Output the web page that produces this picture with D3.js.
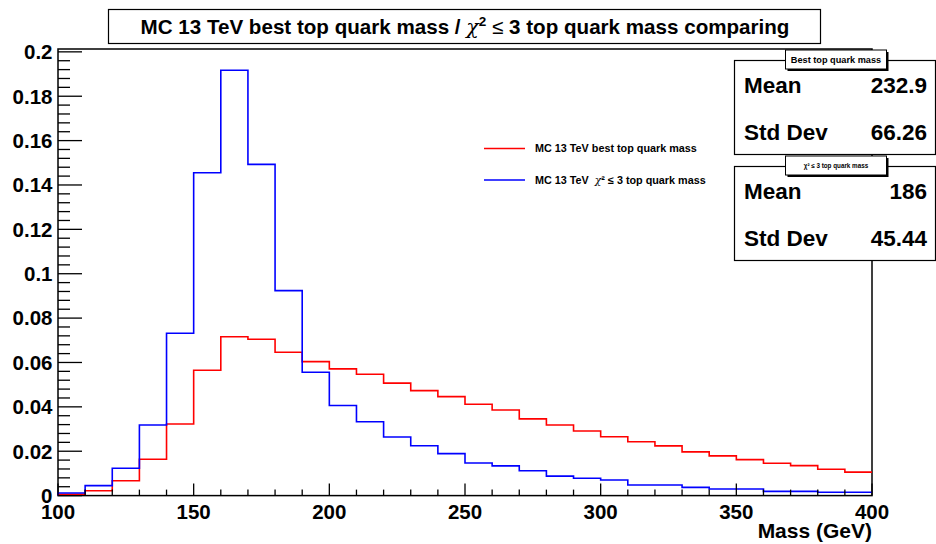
<!DOCTYPE html>
<html>
<head>
<meta charset="utf-8">
<script src="https://cdn.jsdelivr.net/npm/d3@7"></script>
<style>
  html, body { margin: 0; padding: 0; background: #fff; }
  svg { display: block; }
  text { font-family: "Liberation Sans", Arial, Helvetica, sans-serif; font-weight: bold; }
  .greek { font-family: "DejaVu Serif", "Liberation Serif", serif; font-style: italic; font-weight: normal; }
</style>
</head>
<body>
<svg id="chart" width="936" height="544"></svg>
<script>
// ---- data ----
const binEdges = d3.range(100, 401, 10); // 100..400, 10 GeV bins
const bestMass = [0.0006, 0.0022, 0.0067, 0.0164, 0.0323, 0.0565, 0.0716, 0.0705, 0.0646, 0.0604,
                  0.0571, 0.0547, 0.0507, 0.0473, 0.0446, 0.0412, 0.0386, 0.0346, 0.0318, 0.0291,
                  0.0265, 0.0243, 0.0224, 0.0197, 0.0179, 0.0162, 0.0146, 0.0135, 0.0119, 0.0106];
const chi2Mass = [0.0012, 0.0045, 0.0123, 0.0318, 0.0732, 0.1455, 0.1917, 0.1493, 0.0924, 0.0556,
                  0.0406, 0.0333, 0.0264, 0.0225, 0.0189, 0.0147, 0.0134, 0.0112, 0.0088, 0.0078,
                  0.0070, 0.0048, 0.0048, 0.0037, 0.0030, 0.0030, 0.0019, 0.0019, 0.0015, 0.0015];
const xTicks = [100, 150, 200, 250, 300, 350, 400];
const yTicks = [0, 0.02, 0.04, 0.06, 0.08, 0.1, 0.12, 0.14, 0.16, 0.18, 0.2];
const yTickLabels = ["0", "0.02", "0.04", "0.06", "0.08", "0.1", "0.12", "0.14", "0.16", "0.18", "0.2"];
// legend label pieces: [prefix, greek, suffix]
const seriesNames = [["MC 13 TeV best top quark mass", "", ""],
                     ["MC 13 TeV \u00A0", "\u03C7", "\u00B2 \u2264 3 top quark mass"]];
const statTitles = ["Best top quark mass", "\u03C7\u00B2 \u2264 3 top quark mass"];
const statMeans = ["232.9", "186"];
const statStd = ["66.26", "45.44"];

// ---- layout ----
const svg = d3.select("#chart");
const L = 58, R = 872, T = 49, B = 495.6;
const x = d3.scaleLinear().domain([100, 400]).range([L, R]);
const yMax = d3.max(chi2Mass) * 1.05;
const y = d3.scaleLinear().domain([0, yMax]).range([B, T]);

// frame
svg.append("rect").attr("x", L).attr("y", T).attr("width", R - L).attr("height", B - T)
  .attr("fill", "none").attr("stroke", "#000").attr("stroke-width", 1.5);

// histograms
function stepPoints(vals) {
  const pts = [[binEdges[0], 0]];
  vals.forEach((v, i) => { pts.push([binEdges[i], v]); pts.push([binEdges[i + 1], v]); });
  return pts;
}
const line = d3.line().x(d => x(d[0])).y(d => y(d[1]));
svg.append("path").attr("d", line(stepPoints(bestMass)))
  .attr("fill", "none").attr("stroke", "#ff0000").attr("stroke-width", 1.6);
svg.append("path").attr("d", line(stepPoints(chi2Mass)))
  .attr("fill", "none").attr("stroke", "#0000ff").attr("stroke-width", 1.6);

// x axis ticks (inward)
const gx = svg.append("g").attr("transform", `translate(0,${B})`);
const xMinor = d3.range(100, 401, 10);
gx.selectAll("line.minor").data(xMinor).join("line")
  .attr("x1", d => x(d)).attr("x2", d => x(d)).attr("y1", 0)
  .attr("y2", d => xTicks.includes(d) ? -12 : -6)
  .attr("stroke", "#000").attr("stroke-width", 1.3);
gx.selectAll("text").data(xTicks).join("text")
  .attr("x", d => x(d)).attr("y", 23.5).attr("text-anchor", "middle")
  .attr("font-size", 20.5).text(d => d);
svg.append("text").attr("x", R).attr("y", 538).attr("text-anchor", "end")
  .attr("font-size", 21).text("Mass (GeV)");

// y axis ticks (inward)
const yMinor = d3.range(0, 0.2001, 0.004);
svg.append("g").selectAll("line").data(yMinor).join("line")
  .attr("x1", L).attr("x2", (d, i) => L + (i % 5 === 0 ? 24 : 12))
  .attr("y1", d => y(d)).attr("y2", d => y(d))
  .attr("stroke", "#000").attr("stroke-width", 1.3);
svg.append("g").selectAll("text").data(yTicks).join("text")
  .attr("x", 52.5).attr("y", d => y(d)).attr("dy", "0.36em")
  .attr("text-anchor", "end").attr("font-size", 20.5)
  .text((d, i) => yTickLabels[i]);

// title box
svg.append("rect").attr("x", 108.5).attr("y", 9.5).attr("width", 712).attr("height", 34)
  .attr("fill", "#fff").attr("stroke", "#000").attr("stroke-width", 1.2);
const title = svg.append("text").attr("x", 465).attr("y", 34).attr("text-anchor", "middle")
  .attr("font-size", 20.6);
title.append("tspan").text("MC 13 TeV best top quark mass / ");
title.append("tspan").attr("class", "greek").text("\u03C7");
title.append("tspan").attr("font-size", 13.5).attr("dy", -8).text("2");
title.append("tspan").attr("dy", 8).attr("font-weight", "normal").text(" \u2264");
title.append("tspan").text(" 3 top quark mass comparing");

// legend
const legY = [148.5, 180];
const legColors = ["#ff0000", "#0000ff"];
seriesNames.forEach((parts, i) => {
  svg.append("line").attr("x1", 484).attr("x2", 525).attr("y1", legY[i]).attr("y2", legY[i])
    .attr("stroke", legColors[i]).attr("stroke-width", 1.5);
  const t = svg.append("text").attr("x", 535).attr("y", legY[i]).attr("dy", "0.35em")
    .attr("font-size", 10.8);
  t.append("tspan").text(parts[0]);
  if (parts[1]) t.append("tspan").attr("class", "greek").text(parts[1]);
  if (parts[2]) t.append("tspan").text(parts[2]);
});

// stats boxes
const boxTop = [60.5, 166.5], boxH = 94;
[0, 1].forEach(i => {
  const g = svg.append("g");
  g.append("rect").attr("x", 734.5).attr("y", boxTop[i]).attr("width", 201).attr("height", boxH)
    .attr("fill", "#fff").attr("stroke", "#000").attr("stroke-width", 1.2);
  g.append("text").attr("x", 744).attr("y", boxTop[i] + 32.5).attr("font-size", 22.5).text("Mean");
  g.append("text").attr("x", 927).attr("y", boxTop[i] + 32.5).attr("text-anchor", "end")
    .attr("font-size", 22.5).text(statMeans[i]);
  g.append("text").attr("x", 744).attr("y", boxTop[i] + 79.5).attr("font-size", 22.5).text("Std Dev");
  g.append("text").attr("x", 927).attr("y", boxTop[i] + 79.5).attr("text-anchor", "end")
    .attr("font-size", 22.5).text(statStd[i]);
  // label box with shadow
  const ly = boxTop[i] - 10.5;
  g.append("rect").attr("x", 787.5).attr("y", ly + 2).attr("width", 101).attr("height", 19)
    .attr("fill", "#000");
  g.append("rect").attr("x", 785.5).attr("y", ly).attr("width", 101).attr("height", 19)
    .attr("fill", "#fff").attr("stroke", "#000").attr("stroke-width", 1);
  g.append("text").attr("x", 836).attr("y", ly + 9.5).attr("dy", "0.35em")
    .attr("text-anchor", "middle").attr("font-size", i === 0 ? 9.2 : 6.3).text(statTitles[i]);
});
</script>
</body>
</html>
